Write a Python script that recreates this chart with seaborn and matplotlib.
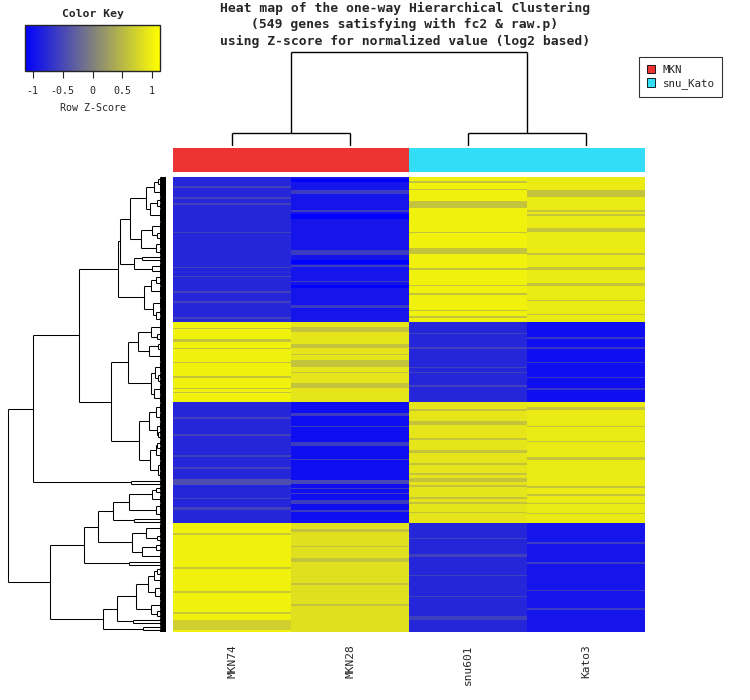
import numpy as np
import pandas as pd
import matplotlib
matplotlib.use("Agg")
import matplotlib.pyplot as plt
import seaborn as sns
from matplotlib.colors import LinearSegmentedColormap, ListedColormap
from matplotlib.collections import LineCollection
from matplotlib.patches import Patch

# samples and groups
samples = ["MKN74", "MKN28", "snu601", "Kato3"]
groups = ["MKN", "MKN", "snu_Kato", "snu_Kato"]
group_names = ["MKN", "snu_Kato"]
group_colors = ["#EE3333", "#33DDF8"]

# row z-scores: 4 clusters of genes, one main profile each (MKN74, MKN28, snu601, Kato3)
block_sizes = [175, 97, 146, 131]
block_profiles = [
    [-0.8, -0.95, 1.0, 0.95],
    [1.0, 0.9, -0.8, -1.0],
    [-0.8, -1.0, 0.9, 0.95],
    [1.0, 0.85, -0.8, -0.95],
]

# rows that differ from the main profile: (first row, number of rows, z)
stripes_mkn74 = [
    (11, 2, -0.55), (24, 2, -0.55), (31, 3, -0.55), (66, 2, -0.55), (108, 2, -0.55),
    (120, 1, -0.55), (138, 2, -0.55), (150, 2, -0.55), (169, 2, -0.55),
    (182, 2, 0.6), (196, 3, 0.6), (206, 2, 0.6), (223, 2, 0.6), (240, 3, 0.6),
    (254, 2, 0.6), (259, 2, 0.6),
    (290, 2, -0.55), (310, 2, -0.55), (335, 3, -0.55), (350, 2, -0.55),
    (364, 8, -0.45), (387, 2, -0.55), (398, 4, -0.55),
    (430, 2, 0.65), (470, 3, 0.65), (500, 2, 0.65), (525, 2, 0.65), (534, 12, 0.7),
]
stripes_mkn28 = [
    (2, 4, -1.13), (16, 4, -0.6), (40, 2, -0.6), (45, 6, -1.13), (88, 6, -0.6),
    (100, 5, -1.13), (106, 2, -0.6), (125, 2, -0.6), (130, 4, -1.13), (155, 3, -0.6),
    (181, 6, 0.6), (201, 5, 0.6), (213, 2, 0.6), (221, 8, 0.6), (235, 2, 0.6), (249, 5, 0.6),
    (285, 3, -0.6), (300, 2, -0.6), (320, 4, -0.6), (340, 2, -0.6),
    (365, 6, -0.5), (375, 2, -0.6), (381, 2, -0.6), (390, 4, -0.6), (402, 2, -0.6),
    (425, 3, 0.6), (445, 2, 0.6), (460, 4, 0.6), (490, 2, 0.6), (515, 3, 0.6),
]
stripes_snu601 = [
    (5, 2, 0.6), (14, 2, 0.6), (29, 8, 0.6), (66, 2, 0.6), (86, 7, 0.6), (110, 2, 0.6),
    (130, 2, 0.6), (140, 2, 0.6), (160, 2, 0.6), (168, 2, 0.6),
    (188, 2, -0.55), (205, 2, -0.55), (229, 2, -0.55), (235, 2, -0.55), (251, 2, -0.55),
    (280, 2, 0.6), (295, 4, 0.6), (315, 2, 0.6), (330, 3, 0.6), (345, 2, 0.6),
    (357, 2, 0.6), (363, 5, 0.6), (372, 2, 0.6), (386, 2, 0.6), (392, 2, 0.6), (404, 2, 0.6),
    (435, 2, -0.55), (455, 3, -0.55), (480, 2, -0.55), (505, 2, -0.55), (530, 4, -0.55),
]
stripes_kato3 = [
    (16, 8, 0.6), (40, 2, 0.6), (45, 2, 0.6), (62, 4, 0.6), (92, 2, 0.6), (108, 4, 0.6),
    (128, 4, 0.6), (148, 2, 0.6), (165, 2, 0.6),
    (193, 2, -0.65), (205, 2, -0.65), (223, 2, -0.65), (241, 2, -0.65), (255, 2, -0.65),
    (278, 3, 0.6), (300, 2, 0.6), (318, 2, 0.6), (338, 4, 0.6),
    (373, 2, 0.6), (383, 2, 0.6), (393, 2, 0.6), (405, 2, 0.6),
    (440, 3, -0.6), (465, 2, -0.6), (498, 2, -0.6), (520, 2, -0.6),
]

# row dendrogram: (merge height, upper, lower); an int is a leaf group of that many genes
row_tree = (158,
    (133,
        (87,
            (48,
                (46,
                    (36, (20, (12, (8, 6, 6), 12), (16, (9, 7, 7), 16)),
                         (25, (14, 10, (9, 6, 6)), (10, 10, 8))),
                    (32, (24, 4, 5), (14, 8, 6))),
                (22, (15, (10, 7, 7), 14), (13, 14, (10, 8, 8)))),
            (55,
                (38, (28, (15, 12, (9, 6, 6)), (17, (8, 5, 6), 13)),
                     (15, (11, 13, (8, 7, 7)), (12, 12, 10))),
                (27, (17, (10, 12, 11), (9, 10, (8, 6, 6))),
                     (16, (10, (9, 7, 6), 12), (8, 12, 11))))),
        (35, 3, 4)),
    (116,
        (82,
            (68,
                (53, (37, (14, (10, 6, 5), 10), (10, 9, 9)), (32, 3, 4)),
                (34, (20, 12, (9, 6, 5)), (24, (10, 6, 5), 11))),
            (37, 3, 4)),
        (63,
            (49, (30, (18, (12, (9, 6, 5), 10), (11, 10, 10)), (15, 10, (9, 6, 5))),
                 (33, 4, 5)),
            (23, 4, 4))))
row_leaf_height = 6

# column dendrogram
col_tree = (94, (13, 1, 1), (13, 1, 1))


def dendro_segments(node, start, leaf_h, segs):
    if isinstance(node, int):
        pos = [start + k + 0.5 for k in range(node)]
        if leaf_h > 0:
            for p in pos:
                segs.append([(0, p), (leaf_h, p)])
            segs.append([(leaf_h, pos[0]), (leaf_h, pos[-1])])
        return (pos[0] + pos[-1]) / 2, leaf_h, node
    h, upper, lower = node
    p1, h1, n1 = dendro_segments(upper, start, leaf_h, segs)
    p2, h2, n2 = dendro_segments(lower, start + n1, leaf_h, segs)
    segs.append([(h1, p1), (h, p1)])
    segs.append([(h2, p2), (h, p2)])
    segs.append([(h, p1), (h, p2)])
    return (p1 + p2) / 2, h, n1 + n2


z = np.vstack([np.tile(p, (n, 1)) for n, p in zip(block_sizes, block_profiles)])
for j, stripes in enumerate([stripes_mkn74, stripes_mkn28, stripes_snu601, stripes_kato3]):
    for first, n, val in stripes:
        z[first:first + n, j] = val
df = pd.DataFrame(z, columns=samples)
n_rows = len(df)

sns.set_style("white")
plt.rcParams["font.family"] = ["DejaVu Sans Mono"]

W, H = 750, 700
fig = plt.figure(figsize=(W / 100, H / 100), dpi=100)


def add_ax(x0, y0, x1, y1):
    # pixel box (top-left origin) -> figure axes
    return fig.add_axes([x0 / W, 1 - y1 / H, (x1 - x0) / W, (y1 - y0) / H])


cmap = LinearSegmentedColormap.from_list("bgy", ["#0000FF", "#FFFF00"])

# main heatmap
ax_hm = add_ax(173, 177, 645, 632)
sns.heatmap(df, cmap=cmap, vmin=-1.13, vmax=1.13, cbar=False, ax=ax_hm,
            xticklabels=samples, yticklabels=False)
ax_hm.set_xticklabels(samples, rotation=90, fontsize=8, va="top")
ax_hm.tick_params(axis="x", length=0, pad=9)
ax_hm.set_xlabel("")
ax_hm.set_ylabel("")

# column side colours
ax_cc = add_ax(173, 148, 645, 172)
codes = np.array([[group_names.index(g) for g in groups]])
sns.heatmap(codes, cmap=ListedColormap(group_colors), vmin=-0.5, vmax=1.5, cbar=False,
            ax=ax_cc, xticklabels=False, yticklabels=False)

# row dendrogram
segs = []
dendro_segments(row_tree, 0, row_leaf_height, segs)
ax_rd = add_ax(5, 177, 166, 632)
ax_rd.add_collection(LineCollection(segs, colors="black", linewidths=0.75))
ax_rd.set_xlim(161, 0)
ax_rd.set_ylim(n_rows, 0)
ax_rd.axis("off")

# column dendrogram
segs = []
dendro_segments(col_tree, 0, 0, segs)
segs = [[(p, h) for h, p in s] for s in segs]
ax_cd = add_ax(173, 50, 645, 146)
ax_cd.add_collection(LineCollection(segs, colors="black", linewidths=1.0))
ax_cd.set_xlim(0, len(samples))
ax_cd.set_ylim(0, 96)
ax_cd.axis("off")

# colour key
ax_key = add_ax(25, 25, 160, 71)
cbar = fig.colorbar(ax_hm.collections[0], cax=ax_key, orientation="horizontal",
                    ticks=[-1, -0.5, 0, 0.5, 1])
cbar.set_ticklabels(["-1", "-0.5", "0", "0.5", "1"])
cbar.outline.set_linewidth(1.0)
ax_key.tick_params(labelsize=7.2, length=5, width=0.8, pad=6, direction="out")
ax_key.set_xlabel("Row Z-Score", fontsize=7.2, labelpad=5)
ax_key.set_title("Color Key", fontsize=8.2, fontweight="bold", pad=6)

# legend
handles = [Patch(facecolor=c, edgecolor="black", linewidth=0.6, label=n)
           for n, c in zip(group_names, group_colors)]
leg = fig.legend(handles=handles, loc="upper left", bbox_to_anchor=(639 / W, 1 - 57 / H),
                 frameon=True, fancybox=False, edgecolor="black", fontsize=7.8,
                 handlelength=0.8, handleheight=0.8, borderpad=0.7, labelspacing=0.35,
                 handletextpad=0.7, borderaxespad=0)
leg.get_frame().set_linewidth(0.8)

# title
title_lines = [
    "Heat map of the one-way Hierarchical Clustering",
    "(549 genes satisfying with fc2 & raw.p)",
    "using Z-score for normalized value (log2 based)",
]
for line, y in zip(title_lines, [8, 24, 41]):
    fig.text(405 / W, 1 - y / H, line, ha="center", va="center", fontsize=9.4,
             fontweight="bold")

fig.savefig("out.png", dpi=100)
